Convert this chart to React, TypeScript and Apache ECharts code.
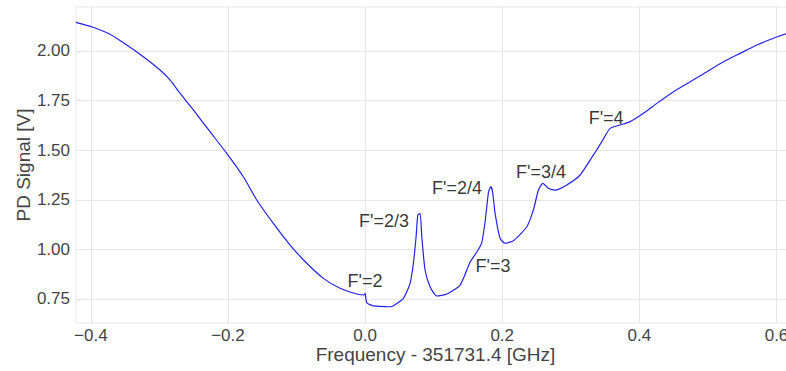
import React, { useEffect, useRef } from "react";
import * as echarts from "echarts";

// Frequency offset [GHz] relative to 351731.4 GHz
const freq = [
  -0.4216, -0.4206, -0.3987, -0.372, -0.3476, -0.3234, -0.299, -0.2845, -0.2699, -0.2505,
  -0.2261, -0.2018, -0.1775, -0.158, -0.1338, -0.1094, -0.085, -0.0608, -0.0365, -0.0121,
  -0.0015, 0.0, 0.0025, 0.0121, 0.0365, 0.0413, 0.0559, 0.0656, 0.0705, 0.0744,
  0.0769, 0.0802, 0.0827, 0.0875, 0.0948, 0.1046, 0.1192, 0.1386, 0.1532, 0.163,
  0.170, 0.175, 0.180, 0.1834, 0.186, 0.1896, 0.1969, 0.2042, 0.2163, 0.2359,
  0.2455, 0.2528, 0.2592, 0.2674, 0.2772, 0.2942, 0.3136, 0.333, 0.3453, 0.3574,
  0.372, 0.3866, 0.406, 0.4255, 0.4497, 0.4741, 0.4985, 0.5227, 0.547, 0.5714,
  0.5956, 0.6142, 0.627,
];
// Photodiode signal [V]
const signal = [
  2.146, 2.143, 2.122, 2.084, 2.03, 1.971, 1.904, 1.854, 1.787, 1.703,
  1.593, 1.484, 1.366, 1.249, 1.131, 1.022, 0.93, 0.854, 0.804, 0.775,
  0.77, 0.779, 0.731, 0.715, 0.711, 0.716, 0.753, 0.829, 0.93, 1.064,
  1.173, 1.182, 1.064, 0.896, 0.812, 0.765, 0.775, 0.82, 0.936, 0.987,
  1.032, 1.138, 1.289, 1.316, 1.289, 1.182, 1.056, 1.031, 1.044, 1.114,
  1.199, 1.299, 1.333, 1.308, 1.299, 1.325, 1.375, 1.476, 1.543, 1.61,
  1.627, 1.644, 1.686, 1.736, 1.795, 1.845, 1.895, 1.946, 1.988, 2.03,
  2.064, 2.086, 2.094,
];

const annotationLabels = ["F'=2", "F'=2/3", "F'=2/4", "F'=3", "F'=3/4", "F'=4"];
const annotationX = [0.0, 0.0277, 0.1342, 0.1867, 0.2567, 0.3516];
const annotationY = [0.841, 1.143, 1.309, 0.916, 1.39, 1.662];

const xTicks = [-0.4, -0.2, 0.0, 0.2, 0.4, 0.6];
const yTicks = [0.75, 1.0, 1.25, 1.5, 1.75, 2.0];

const FONT = "Liberation Sans";

export default function App() {
  const ref = useRef<HTMLDivElement>(null);

  useEffect(() => {
    if (!ref.current) return;
    const chart = echarts.init(ref.current, undefined, { renderer: "svg" });
    const lineData = freq.map((f, i) => [f, signal[i]]);
    const annData = annotationLabels.map((t, i) => [annotationX[i], annotationY[i], t]);
    const gridColor = "#e6e6e6";
    chart.setOption({
      animation: false,
      backgroundColor: "#ffffff",
      grid: {
        left: 76,
        top: 7,
        right: 5,
        bottom: 48,
        show: true,
        borderColor: gridColor,
        borderWidth: 1,
        backgroundColor: "transparent",
      },
      xAxis: {
        type: "value",
        min: -0.4216,
        max: 0.627,
        name: "Frequency - 351731.4 [GHz]",
        nameLocation: "middle",
        nameGap: 22,
        nameMoveOverlap: false,
        nameTextStyle: { fontFamily: FONT, fontSize: 19, lineHeight: 19, color: "#444444" },
        axisLine: { show: false },
        axisTick: { show: false, customValues: xTicks },
        axisLabel: {
          customValues: xTicks,
          margin: 5,
          fontFamily: FONT,
          fontSize: 17,
          lineHeight: 15,
          color: "#444444",
          formatter: (v: number) => (v < -1e-9 ? "\u2212" : "") + Math.abs(v).toFixed(1),
        },
        splitLine: { show: true, lineStyle: { color: gridColor, width: 1 } },
      },
      yAxis: {
        type: "value",
        min: 0.629,
        max: 2.2217,
        name: "PD Signal [V]",
        nameLocation: "middle",
        nameGap: 43,
        nameMoveOverlap: false,
        nameRotate: 90,
        nameTextStyle: { fontFamily: FONT, fontSize: 19, color: "#444444" },
        axisLine: { show: false },
        axisTick: { show: false, customValues: yTicks },
        axisLabel: {
          customValues: yTicks,
          margin: 6,
          fontFamily: FONT,
          fontSize: 17,
          color: "#444444",
          formatter: (v: number) => v.toFixed(2),
        },
        splitLine: { show: true, lineStyle: { color: gridColor, width: 1 } },
      },
      series: [
        {
          type: "line",
          data: lineData,
          showSymbol: false,
          symbol: "none",
          smooth: 0.2,
          lineStyle: { color: "#2222ee", width: 1.2 },
          clip: true,
        },
        {
          type: "scatter",
          data: annData,
          symbolSize: 0,
          silent: true,
          label: {
            show: true,
            position: "inside",
            fontFamily: FONT,
            fontSize: 18,
            color: "#000000",
            formatter: (p: any) => p.data[2],
          },
        },
      ],
    });
    return () => chart.dispose();
  }, []);

  return (
    <div
      style={{
        position: "fixed",
        left: 0,
        top: 0,
        width: 786,
        height: 371,
        overflow: "hidden",
        background: "#ffffff",
      }}
    >
      <div ref={ref} style={{ width: 800, height: 371 }} />
    </div>
  );
}
